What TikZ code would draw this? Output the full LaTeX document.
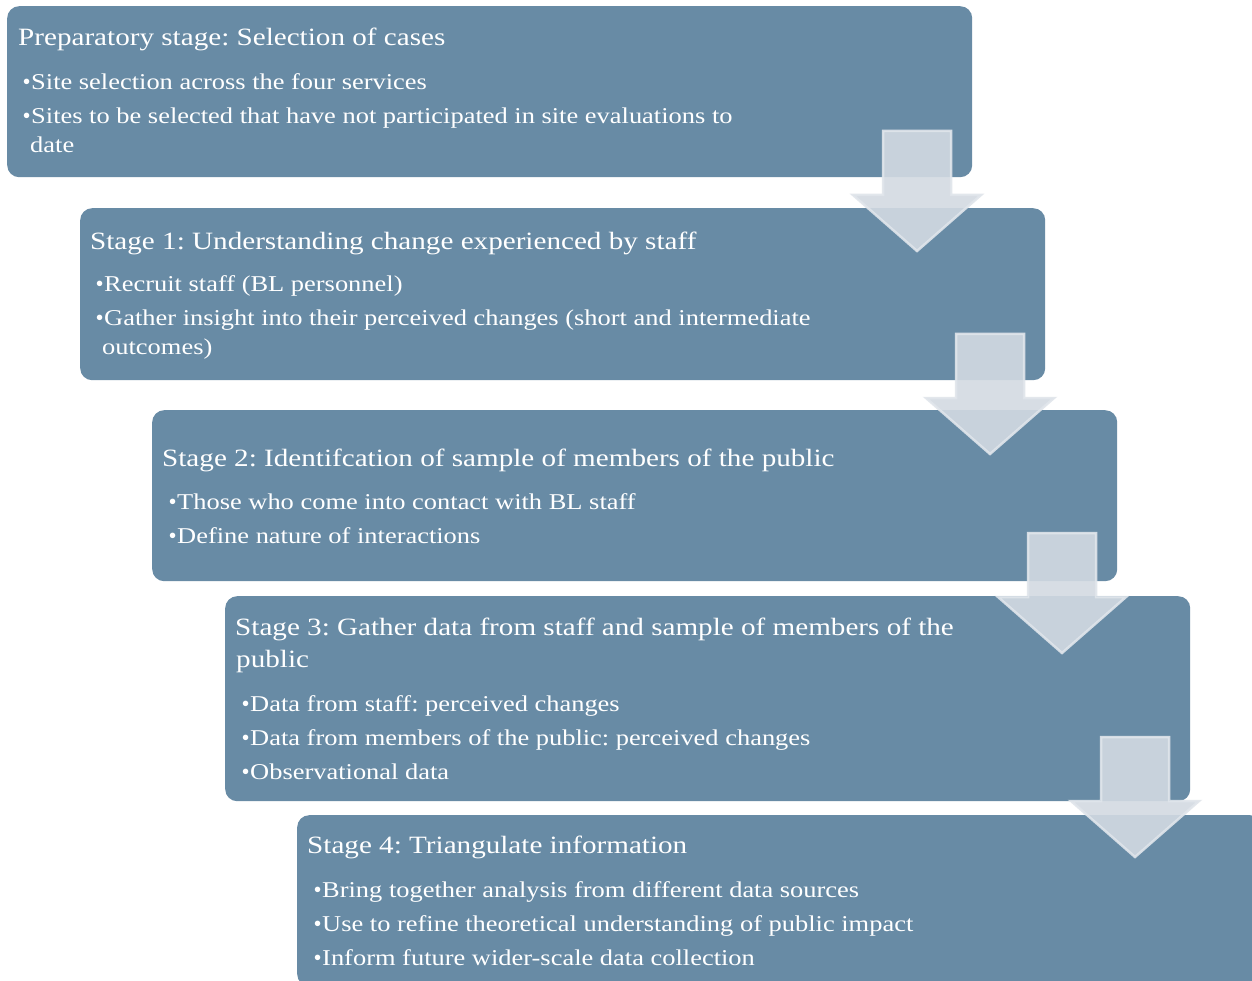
\documentclass[tikz,border=0pt]{standalone}
\usepackage{fontspec}
\setmainfont[FakeStretch=1.17]{Liberation Serif}
\newfontfamily\bulletfont{Liberation Serif}
\frenchspacing
\definecolor{stageblue}{RGB}{104,139,165}
\definecolor{arrowfill}{RGB}{211,218,226}
\definecolor{arrowedge}{RGB}{224,229,235}
% hanging bullet placed just left of an item's text
\newcommand{\stagebullet}{\llap{{\bulletfont\fontsize{23pt}{23pt}\selectfont •}\hspace{0.6pt}}}

\begin{document}
\begin{tikzpicture}[x=1pt,y=-1pt,
  stagebox/.style={fill=stageblue, rounded corners=12pt, draw=none, anchor=north west,
    inner sep=0pt, minimum width=965pt},
  stagetitle/.style={text=white, inner sep=0pt, anchor=base west,
    font=\fontsize{24.9pt}{30pt}\selectfont},
  stageitem/.style={text=white, inner sep=0pt, anchor=base west,
    font=\fontsize{22.6pt}{28pt}\selectfont},
  arrowbody/.style={fill=arrowfill, fill opacity=0.9, draw=arrowedge, draw opacity=0.9,
    line width=2.5pt, line join=miter},
  pics/stagearrow/.style={code={
    \path[arrowbody] (-34,0) -- (34,0) -- (34,64) -- (64,64) -- (0,120)
      -- (-64,64) -- (-34,64) -- cycle;}}]

\useasboundingbox (0,0) rectangle (1252,981);
\clip (0,0) rectangle (1252,981);
\fill[white] (0,0) rectangle (1252,981);

% stage panels
\node[stagebox, minimum height=171pt] (prep) at (7,6) {};
\node[stagebox, minimum height=172pt] (s1) at (80,208) {};
\node[stagebox, minimum height=171pt] (s2) at (152,410) {};
\node[stagebox, minimum height=205pt] (s3) at (225,596) {};
\node[stagebox, minimum height=171pt] (s4) at (297,815) {};

% preparatory stage
\node[stagetitle] (prept) at (18,46) {Preparatory stage: Selection of cases};
\node[stageitem] (prepa) at (31,90) {\stagebullet Site selection across the four services};
\node[stageitem] (prepb) at (31,124) {\stagebullet Sites to be selected that have not participated in site evaluations to};
\node[stageitem] (prepc) at (30,153) {date};

% stage 1
\node[stagetitle] (s1t) at (90,250) {Stage 1: Understanding change experienced by staff};
\node[stageitem] (s1a) at (104,292) {\stagebullet Recruit staff (BL personnel)};
\node[stageitem] (s1b) at (104,326) {\stagebullet Gather insight into their perceived changes (short and intermediate};
\node[stageitem] (s1c) at (102,355) {outcomes)};

% stage 2
\node[stagetitle] (s2t) at (162,466) {Stage 2: Identifcation of sample of members of the public};
\node[stageitem] (s2a) at (177,509) {\stagebullet Those who come into contact with BL staff};
\node[stageitem] (s2b) at (177,543) {\stagebullet Define nature of interactions};

% stage 3
\node[stagetitle] (s3t) at (235,635) {Stage 3: Gather data from staff and sample of members of the};
\node[stagetitle] (s3u) at (236,667) {public};
\node[stageitem] (s3a) at (250,711) {\stagebullet Data from staff: perceived changes};
\node[stageitem] (s3b) at (250,745) {\stagebullet Data from members of the public: perceived changes};
\node[stageitem] (s3c) at (250,779) {\stagebullet Observational data};

% stage 4
\node[stagetitle] (s4t) at (307,853) {Stage 4: Triangulate information};
\node[stageitem] (s4a) at (322,897) {\stagebullet Bring together analysis from different data sources};
\node[stageitem] (s4b) at (322,931) {\stagebullet Use to refine theoretical understanding of public impact};
\node[stageitem] (s4c) at (322,965) {\stagebullet Inform future wider-scale data collection};

% block arrows between consecutive stages
\pic (a1) at (917,131) {stagearrow};
\pic (a2) at (990,334) {stagearrow};
\pic (a3) at (1062,533) {stagearrow};
\pic (a4) at (1135,737) {stagearrow};
\end{tikzpicture}
\end{document}
